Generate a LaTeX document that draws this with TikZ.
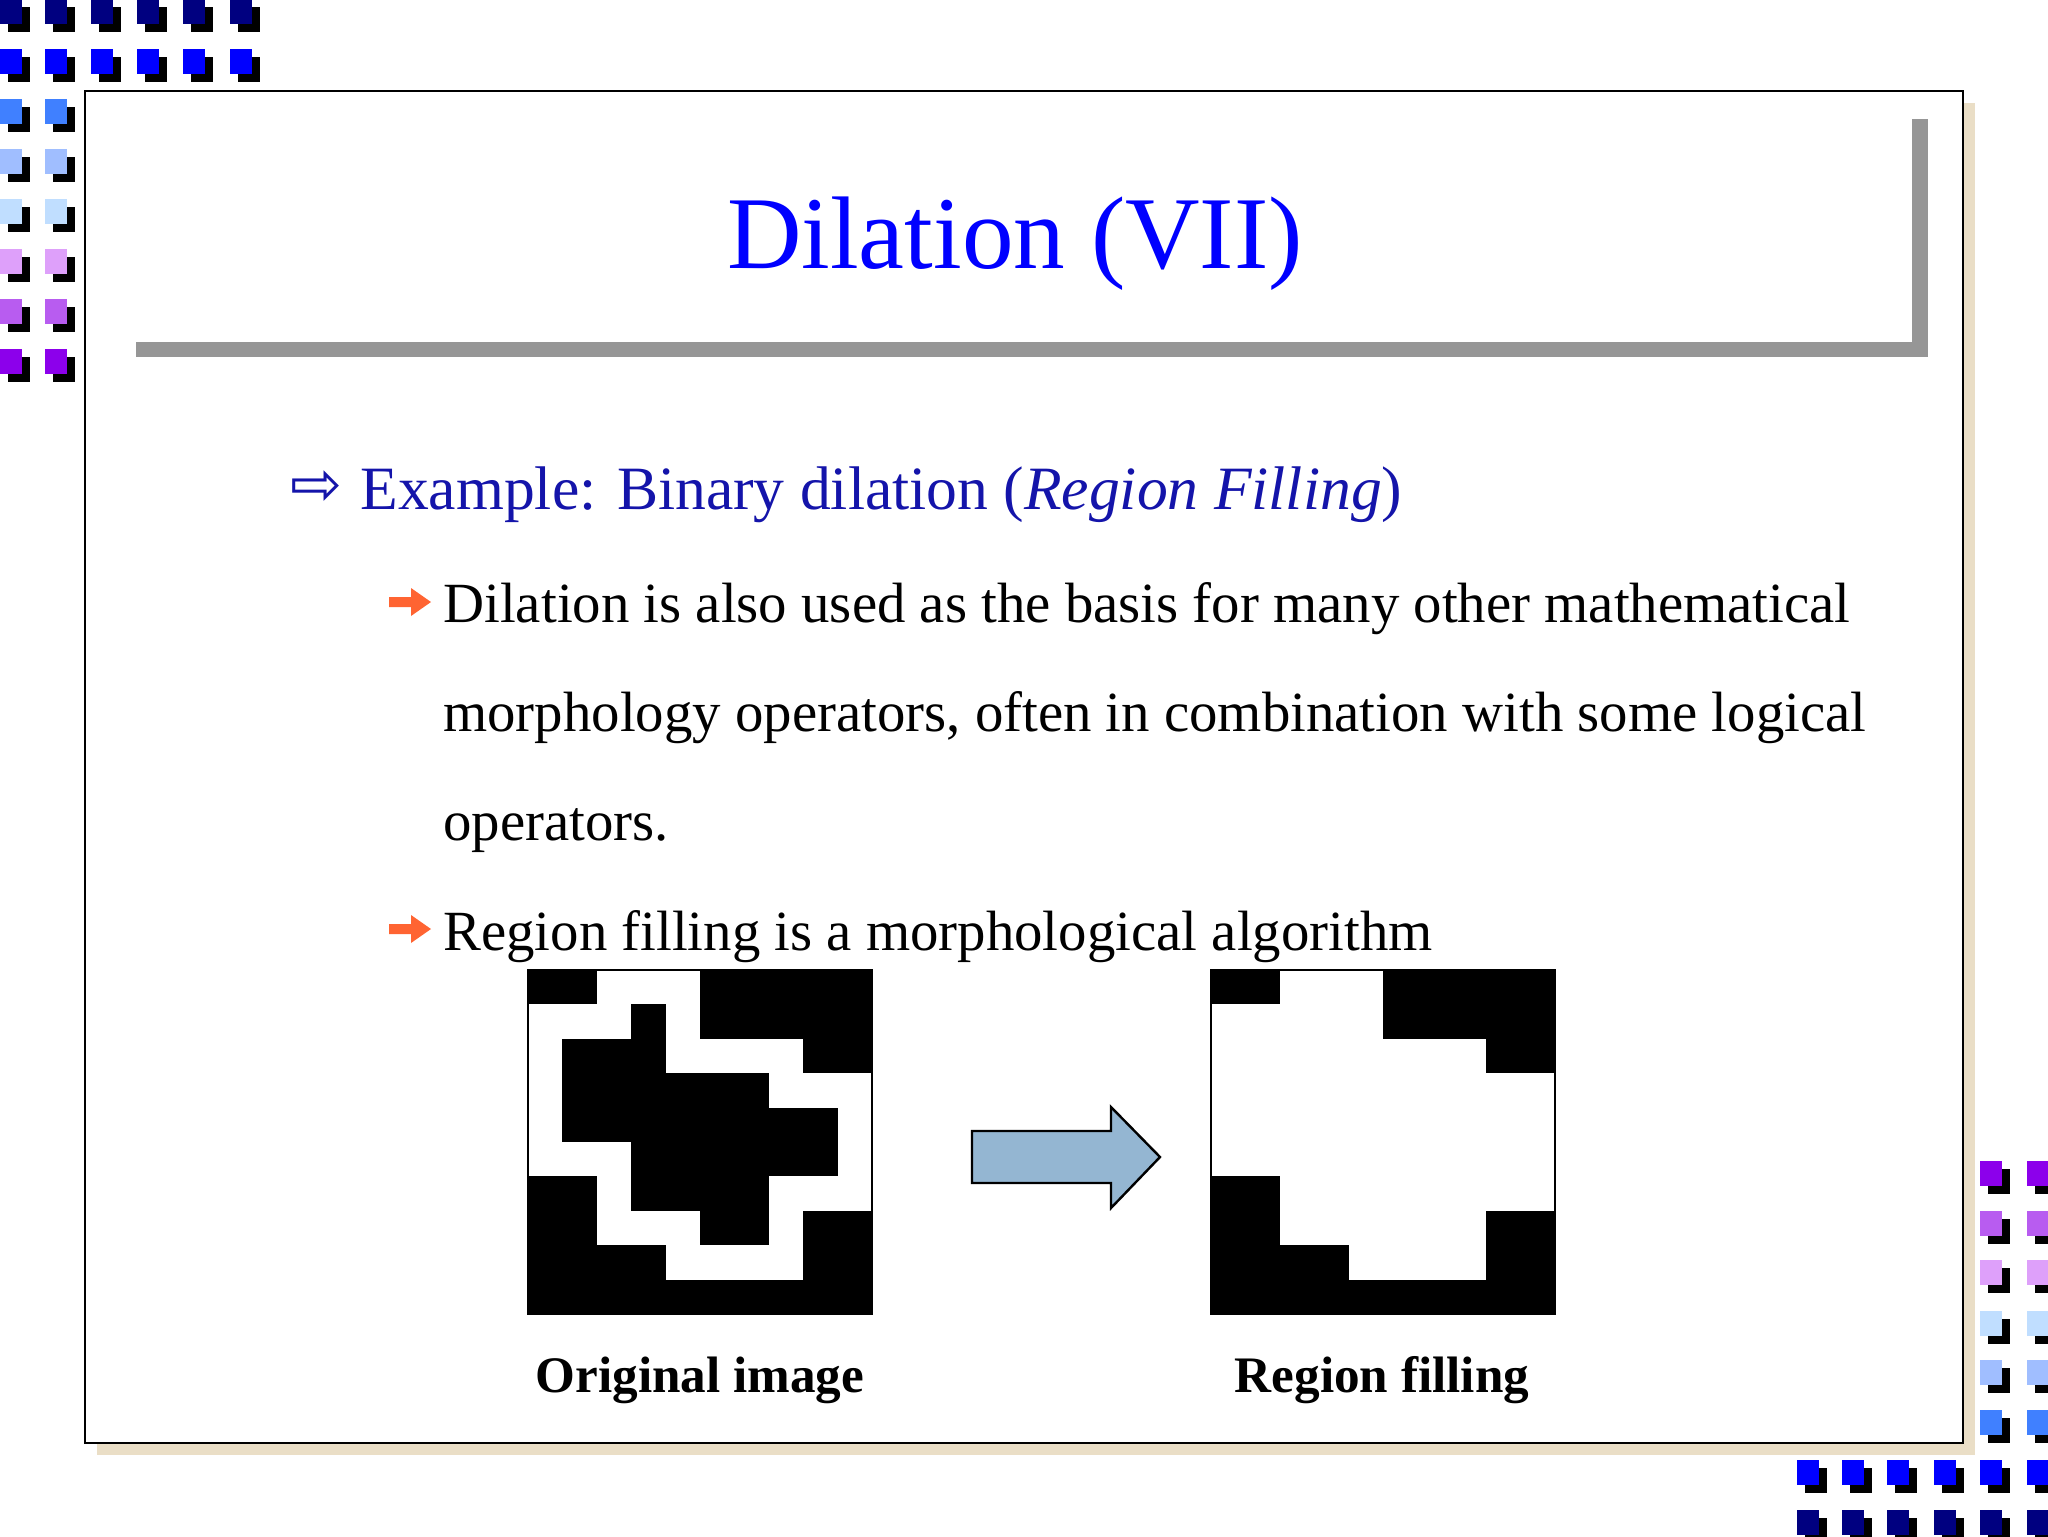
\documentclass[tikz,border=0pt]{standalone}
\usepackage{fontspec}
\setmainfont{Liberation Serif}
\newfontfamily\djv{DejaVu Sans}
\definecolor{sq0}{RGB}{0,0,128}
\definecolor{sq1}{RGB}{0,0,255}
\definecolor{sq2}{RGB}{64,128,255}
\definecolor{sq3}{RGB}{160,190,255}
\definecolor{sq4}{RGB}{192,222,255}
\definecolor{sq5}{RGB}{222,160,250}
\definecolor{sq6}{RGB}{184,92,240}
\definecolor{sq7}{RGB}{140,0,235}
\definecolor{shad}{RGB}{234,222,198}
\definecolor{bar}{RGB}{150,150,150}
\definecolor{head}{RGB}{20,20,170}
\definecolor{orng}{RGB}{255,100,50}
\definecolor{arw}{RGB}{148,182,210}
\newcommand{\sqr}[3]{\fill[black] (#1+8,#2+8) rectangle ++(22,25); \fill[#3] (#1,#2) rectangle ++(22,25);}
\tikzset{txt/.style={anchor=base west,inner sep=0pt,font=\fontsize{28.4}{34}\selectfont},
lbl/.style={anchor=base,inner sep=0pt,font=\fontsize{25.6}{30}\selectfont\bfseries}}
\begin{document}
\begin{tikzpicture}[x=0.5pt,y=-0.5pt]
\useasboundingbox (0,0) rectangle (2048,1536);
% top-left squares
\foreach \c in {0,45,91,137,183,230}{\sqr{\c}{-1}{sq0}\sqr{\c}{49}{sq1}}
\foreach \c in {0,45}{
\sqr{\c}{99}{sq2}\sqr{\c}{149}{sq3}\sqr{\c}{199}{sq4}\sqr{\c}{249}{sq5}\sqr{\c}{299}{sq6}\sqr{\c}{349}{sq7}}
% bottom-right squares
\foreach \c in {1980,2027}{
\sqr{\c}{1161}{sq7}\sqr{\c}{1211}{sq6}\sqr{\c}{1260}{sq5}\sqr{\c}{1311}{sq4}\sqr{\c}{1360}{sq3}\sqr{\c}{1410}{sq2}}
\foreach \c in {1797,1842,1887,1934,1980,2027}{\sqr{\c}{1460}{sq1}\sqr{\c}{1510}{sq0}}
% frame
\fill[shad] (97,103) rectangle (1975,1455);
\draw[fill=white,line width=1.3pt] (85,91) rectangle (1963,1443);
\fill[bar] (136,342) rectangle (1928,357);
\fill[bar] (1912,119) rectangle (1928,357);
\node[anchor=base,inner sep=0pt,text=blue,font=\fontsize{51.6}{60}\selectfont] (title) at (1015,268) {Dilation (VII)};
\node[anchor=base west,inner sep=0pt,text=head,font=\djv\fontsize{31}{36}\selectfont] (harr) at (290,505) {⇨};
\node[txt,text=head,font=\fontsize{30.8}{36}\selectfont] (h1) at (360,509) {Example: Binary dilation (\textit{Region Filling})};
\node[txt] (b1) at (443,622) {Dilation is also used as the basis for many other mathematical};
\node[txt] (b2) at (443,731) {morphology operators, often in combination with some logical};
\node[txt] (b3) at (443,840) {operators.};
\node[txt] (b4) at (443,950) {Region filling is a morphological algorithm};
\foreach \y in {602,929}{
\fill[orng] (389,\y-5) -- (411,\y-5) -- (411,\y-14) -- (431,\y) -- (411,\y+14) -- (411,\y+5) -- (389,\y+5) -- cycle;}
% original image 10x10
\begin{scope}[shift={(528,970)},x=17.2pt,y=-17.2pt]
\fill[white] (0,0) rectangle (10,10);
\fill[black] (0,0) rectangle (2,1); \fill[black] (5,0) rectangle (10,2);
\fill[black] (3,1) rectangle (4,2);
\fill[black] (1,2) rectangle (4,3); \fill[black] (8,2) rectangle (10,3);
\fill[black] (1,3) rectangle (7,4);
\fill[black] (1,4) rectangle (9,5);
\fill[black] (3,5) rectangle (9,6);
\fill[black] (0,6) rectangle (2,8); \fill[black] (3,6) rectangle (7,7);
\fill[black] (5,7) rectangle (7,8); \fill[black] (8,7) rectangle (10,9);
\fill[black] (0,8) rectangle (4,9);
\fill[black] (0,9) rectangle (10,10);
\draw[line width=0.8pt] (0,0) rectangle (10,10);
\end{scope}
% filled image
\begin{scope}[shift={(1211,970)},x=17.2pt,y=-17.2pt]
\fill[white] (0,0) rectangle (10,10);
\fill[black] (0,0) rectangle (2,1); \fill[black] (5,0) rectangle (10,2);
\fill[black] (8,2) rectangle (10,3);
\fill[black] (0,6) rectangle (2,8);
\fill[black] (8,7) rectangle (10,9);
\fill[black] (0,8) rectangle (4,9);
\fill[black] (0,9) rectangle (10,10);
\draw[line width=0.8pt] (0,0) rectangle (10,10);
\end{scope}
% block arrow
\draw[fill=arw,line width=1.2pt] (972,1131) -- (1111,1131) -- (1111,1107) -- (1160,1157) -- (1111,1208) -- (1111,1183) -- (972,1183) -- cycle;
\node[lbl] (l1) at (700,1392) {Original image};
\node[lbl] (l2) at (1382,1392) {Region filling};
\end{tikzpicture}
\end{document}
